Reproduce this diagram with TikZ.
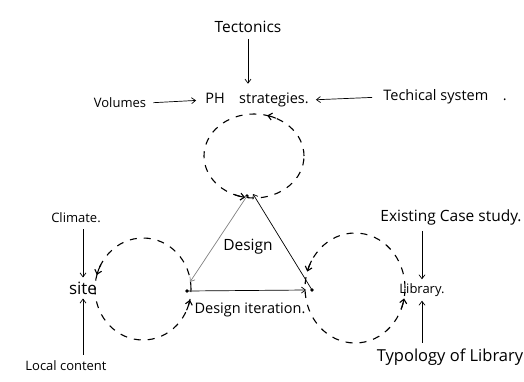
\documentclass[tikz,border=0pt]{standalone}
\usepackage{fontspec}
\setmainfont{Open Sans}
\usetikzlibrary{arrows.meta,shapes.geometric}
\begin{document}
\begin{tikzpicture}[x=1pt,y=1pt,
  lbl/.style={font=\fontsize{13}{15}\selectfont, inner sep=1pt},
  big/.style={font=\fontsize{15.5}{17}\selectfont},
  mid/.style={font=\fontsize{14.5}{16}\selectfont},
  arr/.style={-{Straight Barb[length=4pt,width=6pt]}, line width=0.7pt},
  loopnode/.style={ellipse, draw, dash pattern=on 7pt off 7pt, line width=1.1pt, outer sep=0pt, inner sep=0pt},
  loophead/.style={-{Straight Barb[length=4pt,width=7pt]}, line width=1.1pt},
  vdot/.style={circle, fill, inner sep=1.3pt}]
\useasboundingbox (0,0) rectangle (524,381);
% loops
\node[loopnode, minimum width=100pt, minimum height=84pt] (ctop) at (254,225) {};
\node[loopnode, minimum width=96pt, minimum height=102pt] (cleft) at (143,92) {};
\node[loopnode, minimum width=100pt, minimum height=110pt] (cright) at (355,93) {};
% loop arrow heads
\draw[loophead] (ctop.60) to[bend right=5] (ctop.72);
\draw[loophead] (ctop.-116) to[bend right=5] (ctop.-102);
\draw[loophead] (cleft.150) to[bend right=5] (cleft.163);
\draw[loophead] (cleft.-26) to[bend right=5] (cleft.-13);
\draw[loophead] (cright.148) to[bend right=5] (cright.161);
\draw[loophead] (cright.-25) to[bend right=5] (cright.-12);
% labels
\node[lbl, big] (tect) at (248,354) {Tectonics};
\node[lbl, mid] (ph) at (257,281) {PH\quad strategies.};
\node[lbl] (vol) at (120,278) {Volumes};
\node[lbl, mid] (tech) at (445,284) {Techical system\quad .};
\node[lbl] (clim) at (76,163) {Climate.};
\node[lbl, font=\fontsize{17}{19}\selectfont] (site) at (83,93) {site};
\node[lbl] (local) at (66,15) {Local content};
\node[lbl, big] (exist) at (451,164) {Existing Case study.};
\node[lbl] (lib) at (422,91) {Library.};
\node[lbl, font=\fontsize{16.5}{18}\selectfont] (typ) at (450,24) {Typology of Library};
\node[lbl, big] (des) at (248,134) {Design};
\node[lbl, mid] (desit) at (250,71) {Design iteration.};
% inputs
\draw[arr, shorten <=5pt, shorten >=8pt] (tect.south) -- (tect.south |- ph.north);
\draw[arr, shorten <=6pt, shorten >=8pt] (vol.east) -- (ph.west);
\draw[arr, shorten <=10pt, shorten >=6pt] (tech.west) -- (ph.east);
\draw[arr, shorten <=5pt, shorten >=3pt] (clim.south -| site) -- (site.north);
\draw[arr, shorten <=5pt, shorten >=3pt] (local.north -| site) -- (site.south);
\draw[arr, shorten <=5pt, shorten >=3pt] (exist.south -| lib) -- (lib.north);
\draw[arr, shorten <=5pt, shorten >=3pt] (typ.north -| lib) -- (lib.south);
% triangle
\coordinate (T) at (247,185);
\coordinate (L) at (187,90);
\coordinate (R) at (312,91);
\node[vdot] at (T) {};
\node[vdot] at (L) {};
\node[vdot] at (R) {};
\draw[arr, gray] (T) -- ([shift={(3,9)}]L);
\draw[arr] (R) -- ([shift={(6,2)}]T);
\draw[arr] (L) -- ([xshift=-6pt]R);
\end{tikzpicture}
\end{document}
